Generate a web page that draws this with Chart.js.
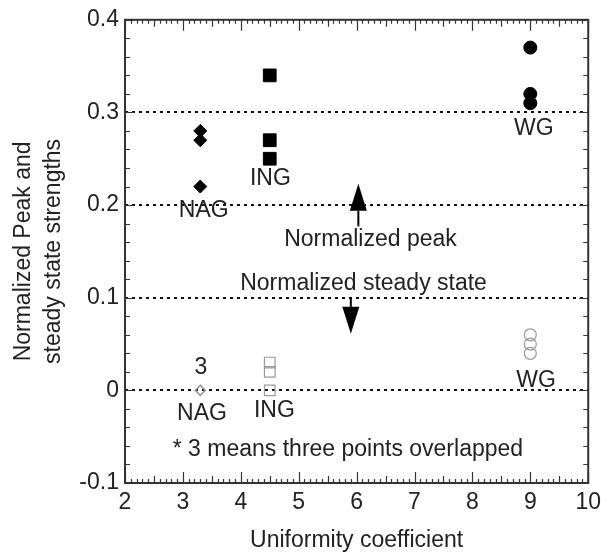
<!DOCTYPE html>
<html>
<head>
<meta charset="utf-8">
<script src="https://cdn.jsdelivr.net/npm/chart.js@4.4.0/dist/chart.umd.min.js"></script>
<style>
  html, body { margin: 0; padding: 0; background: #fff; }
  #wrap { width: 607px; height: 555px; }
</style>
</head>
<body>
<div id="wrap"><canvas id="c"></canvas></div>
<script>
// normalized strengths: filled = peak, open = steady state
const nagX = 3.3, ingX = 4.5, wgX = 9;
const nagPeak = [0.28, 0.27, 0.22];
const ingPeak = [0.34, 0.27, 0.25];
const wgPeak = [0.37, 0.32, 0.31];
const nagSteady = [0, 0, 0];
const ingSteady = [0.03, 0.02, 0];
const wgSteady = [0.06, 0.05, 0.04];

// annotations (data units)
const noteText = ['NAG', 'ING', 'WG', '3', 'NAG', 'ING', 'WG',
  'Normalized peak', 'Normalized steady state', '* 3 means three points overlapped'];
const noteX = [3.36, 4.51, 9.06, 3.31, 3.33, 4.58, 9.1, 6.24, 6.12, 5.85];
const noteY = [0.194, 0.228, 0.283, 0.024, -0.025, -0.022, 0.011, 0.163, 0.115, -0.064];
const arrowX = [6.03, 5.9];
const arrowFrom = [0.177, 0.1];
const arrowTo = [0.223, 0.061];

const FONT = "'Liberation Sans', Arial, sans-serif";
const INK = '#222';

function pts(x, ys) { return ys.map(y => ({ x, y })); }

function ds(label, x, ys, style, r, filled) {
  return {
    label, data: pts(x, ys), pointStyle: style, pointRadius: r, pointHoverRadius: r,
    backgroundColor: filled ? '#000' : 'rgba(0,0,0,0)',
    borderColor: filled ? '#000' : '#999', borderWidth: filled ? 1 : 1.2, showLine: false
  };
}

const extras = {
  id: 'extras',
  afterDatasetsDraw(chart) {
    const { ctx, chartArea: a, scales: { x, y } } = chart;
    ctx.save();
    ctx.strokeStyle = '#333';
    ctx.lineWidth = 2;
    ctx.strokeRect(a.left, a.top, a.right - a.left, a.bottom - a.top);

    // x ticks, bottom and top, every 0.1
    ctx.lineWidth = 1.2;
    ctx.beginPath();
    for (let i = 20; i <= 100; i++) {
      const px = Math.round(x.getPixelForValue(i / 10)) + 0.5;
      const len = i % 10 === 0 ? 11 : (i % 5 === 0 ? 7 : 4);
      ctx.moveTo(px, a.bottom); ctx.lineTo(px, a.bottom - len);
      ctx.moveTo(px, a.top); ctx.lineTo(px, a.top + len);
    }
    // y ticks, left and right, every 0.02
    for (let j = -5; j <= 20; j++) {
      const py = Math.round(y.getPixelForValue(j / 50)) + 0.5;
      const len = j % 5 === 0 ? 9 : 5;
      ctx.moveTo(a.left, py); ctx.lineTo(a.left + len, py);
      ctx.moveTo(a.right, py); ctx.lineTo(a.right - len, py);
    }
    ctx.stroke();

    // arrows
    ctx.strokeStyle = '#000';
    ctx.fillStyle = '#000';
    arrowX.forEach((ax, i) => {
      const px = x.getPixelForValue(ax);
      const y0 = y.getPixelForValue(arrowFrom[i]);
      const y1 = y.getPixelForValue(arrowTo[i]);
      const dir = y1 < y0 ? 1 : -1;
      const head = 27, hw = 8.5;
      ctx.lineWidth = 2;
      ctx.beginPath();
      ctx.moveTo(px, y0); ctx.lineTo(px, y1 + dir * head);
      ctx.stroke();
      ctx.beginPath();
      ctx.moveTo(px, y1);
      ctx.lineTo(px - hw, y1 + dir * head);
      ctx.lineTo(px + hw, y1 + dir * head);
      ctx.closePath();
      ctx.fill();
    });

    // text notes
    ctx.fillStyle = INK;
    ctx.textAlign = 'center';
    ctx.textBaseline = 'middle';
    ctx.font = '23px ' + FONT;
    noteText.forEach((t, i) => {
      ctx.fillText(t, x.getPixelForValue(noteX[i]), y.getPixelForValue(noteY[i]));
    });
    ctx.restore();
  }
};

new Chart(document.getElementById('c'), {
  type: 'scatter',
  data: {
    datasets: [
      ds('NAG peak', nagX, nagPeak, 'rectRot', 6.5, true),
      ds('ING peak', ingX, ingPeak, 'rect', 9, true),
      ds('WG peak', wgX, wgPeak, 'circle', 6.5, true),
      ds('NAG steady', nagX, nagSteady, 'rectRot', 5, false),
      ds('ING steady', ingX, ingSteady, 'rect', 7.5, false),
      ds('WG steady', wgX, wgSteady, 'circle', 6, false)
    ]
  },
  options: {
    responsive: true, maintainAspectRatio: false, animation: false,
    layout: { padding: { top: 18, right: 14, left: 0, bottom: 0 } },
    plugins: { legend: { display: false }, tooltip: { enabled: false } },
    scales: {
      x: {
        type: 'linear', min: 2, max: 10,
        afterFit(s) { s.height = 72; },
        ticks: { stepSize: 1, color: INK, font: { family: FONT, size: 23 }, padding: 6 },
        grid: { display: false, drawTicks: false },
        border: { display: false },
        title: { display: true, text: 'Uniformity coefficient', color: INK,
          font: { family: FONT, size: 23 }, padding: { top: 0, bottom: 1 } }
      },
      y: {
        type: 'linear', min: -0.1, max: 0.4,
        afterFit(s) { s.width = 125; },
        ticks: { stepSize: 0.1, color: INK, font: { family: FONT, size: 23 }, padding: 6,
          callback: v => Math.round(v * 10) / 10 + '' },
        grid: {
          drawTicks: false, lineWidth: 2,
          color: c => (c.tick && c.tick.value > -0.05 && c.tick.value < 0.35) ? '#111' : 'rgba(0,0,0,0)'
        },
        border: { display: false, dash: [3, 4] },
        title: { display: true, text: ['Normalized Peak and', 'steady state strengths'], color: INK,
          font: { family: FONT, size: 23, lineHeight: 1.3 }, padding: { top: 9, bottom: 0 } }
      }
    }
  },
  plugins: [extras]
});
</script>
</body>
</html>
